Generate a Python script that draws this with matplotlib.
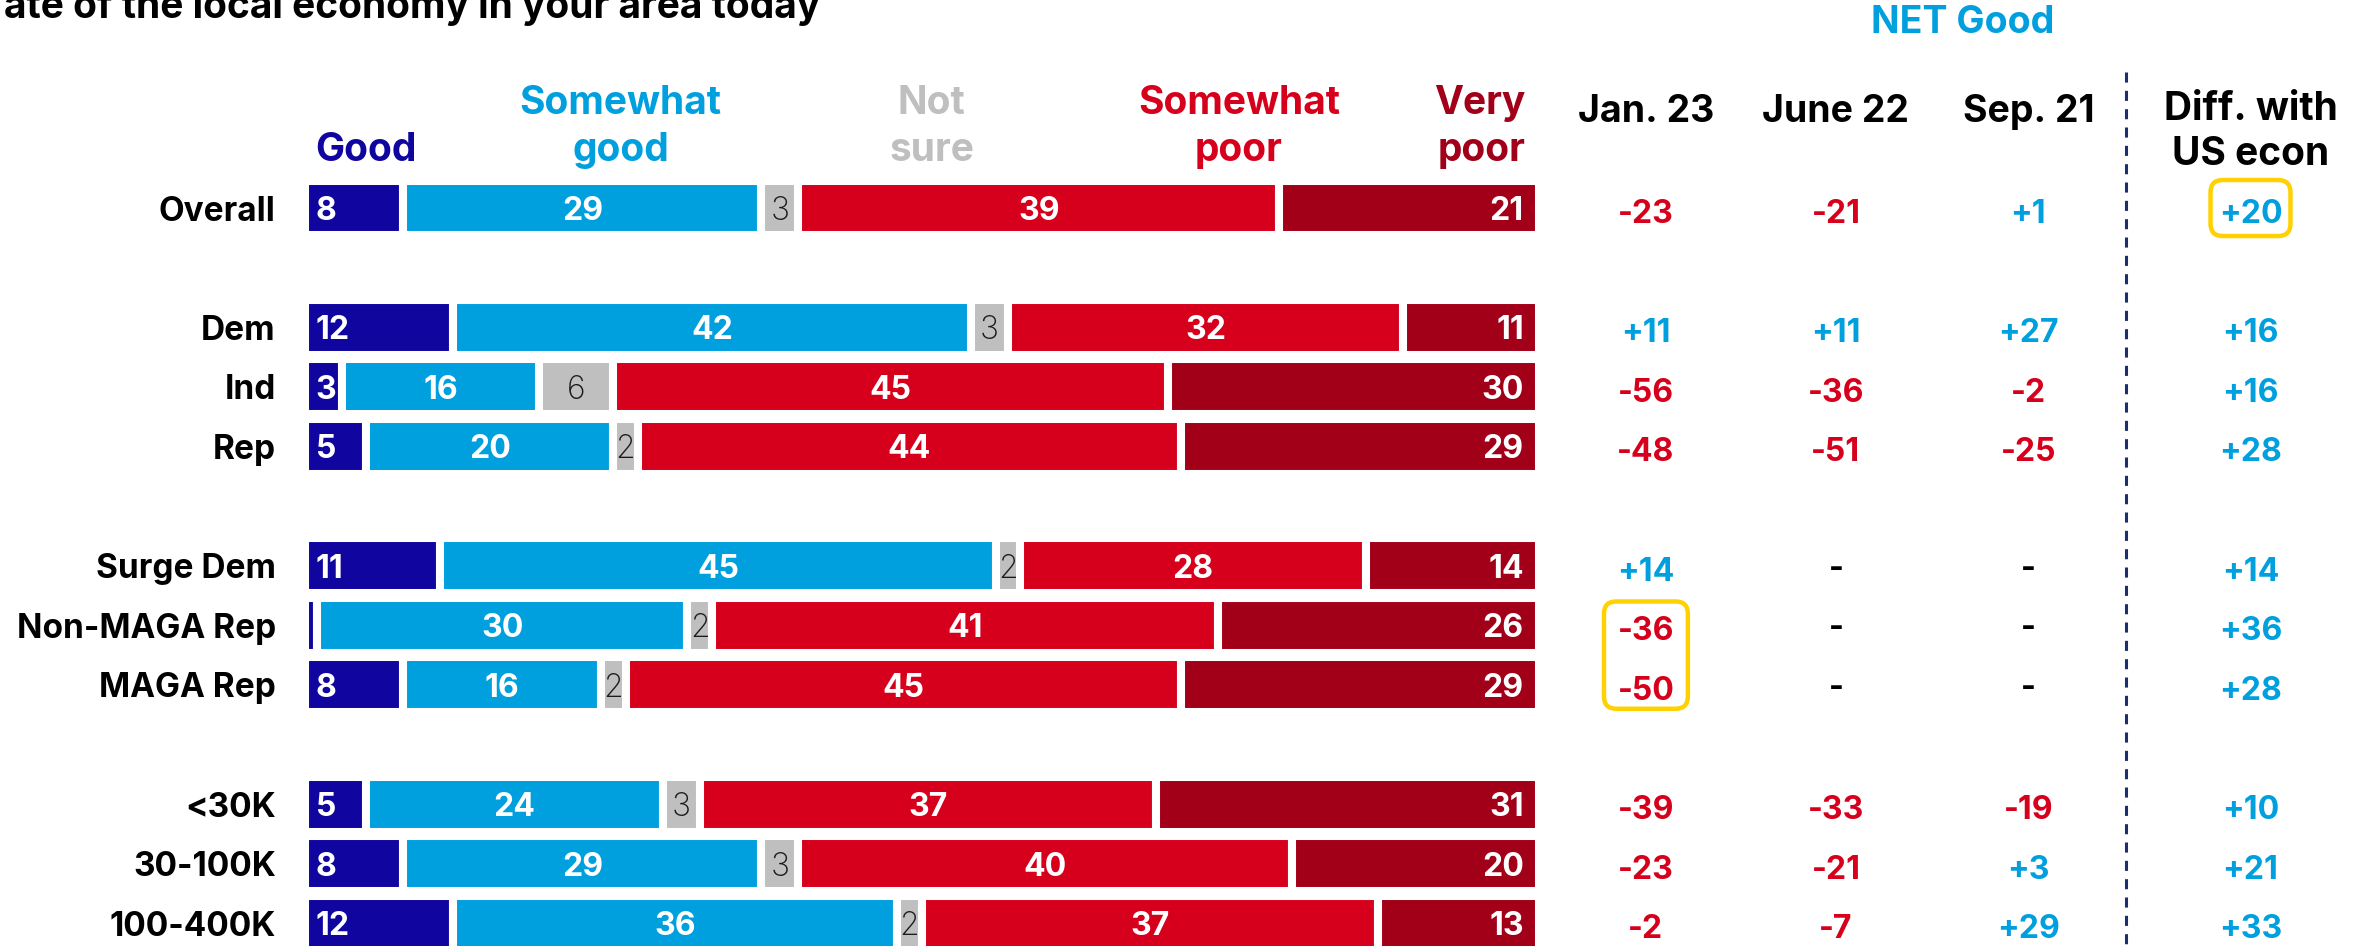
import matplotlib.pyplot as plt
from matplotlib.patches import FancyBboxPatch

plt.rcParams['font.family'] = ['Inter', 'DejaVu Sans']

# survey groups, split into blocks separated by a blank row
groups = ['Overall', 'Dem', 'Ind', 'Rep', 'Surge Dem', 'Non-MAGA Rep',
          'MAGA Rep', '<30K', '30-100K', '100-400K']
block_sizes = [1, 3, 3, 3]

answers = ['Good', 'Somewhat\ngood', 'Not\nsure', 'Somewhat\npoor', 'Very\npoor']
good = [8, 12, 3, 5, 11, 1, 8, 5, 8, 12]
somewhat_good = [29, 42, 16, 20, 45, 30, 16, 24, 29, 36]
not_sure = [3, 3, 6, 2, 2, 2, 2, 3, 3, 2]
somewhat_poor = [39, 32, 45, 44, 28, 41, 45, 37, 40, 37]
very_poor = [21, 11, 30, 29, 14, 26, 29, 31, 20, 13]

net_headers = ['Jan. 23', 'June 22', 'Sep. 21']
net_jan23 = [-23, 11, -56, -48, 14, -36, -50, -39, -23, -2]
net_jun22 = [-21, 11, -36, -51, None, None, None, -33, -21, -7]
net_sep21 = [1, 27, -2, -25, None, None, None, -19, 3, 29]
diff_us = [20, 16, 16, 28, 14, 36, 28, 10, 21, 33]

NAVY = '#10069F'
BLUE = '#009FDE'
GREY = '#BFBFBF'
RED = '#D6001C'
DARKRED = '#A10018'
GOLD = '#FFD100'
colors = [NAVY, BLUE, GREY, RED, DARKRED]

# row positions: one slot per group, one empty slot between blocks
ypos = []
slot = 0
for size in block_sizes:
    ypos.extend(range(slot, slot + size))
    slot += size + 1

fig = plt.figure(figsize=(23.64, 9.46), dpi=100)
ax = fig.add_axes([0, 0, 1, 1])
ax.set_xlim(-24.7, 166.9)
ax.set_ylim(12.38, -3.49)
ax.axis('off')

VAL_SIZE = 23

series = [good, somewhat_good, not_sure, somewhat_poor, very_poor]
lefts = [0] * len(groups)
for k, (vals, col) in enumerate(zip(series, colors)):
    ax.barh(ypos, vals, left=lefts, height=0.92, color=col,
            edgecolor='white', linewidth=5.8)
    for y, l, v in zip(ypos, lefts, vals):
        if v < 2:
            continue
        if k == 0:
            ax.text(l + 0.9, y, str(v), ha='left', va='center_baseline',
                    color='white', fontsize=VAL_SIZE, fontweight='bold')
        elif k == 4:
            ax.text(l + v - 1.2, y, str(v), ha='right', va='center_baseline',
                    color='white', fontsize=VAL_SIZE, fontweight='bold')
        elif k == 2:
            ax.text(l + v / 2, y, str(v), ha='center', va='center_baseline',
                    color='#1a1a1a', fontsize=VAL_SIZE, fontweight='light')
        else:
            ax.text(l + v / 2, y, str(v), ha='center', va='center_baseline',
                    color='white', fontsize=VAL_SIZE, fontweight='bold')
    lefts = [l + v for l, v in zip(lefts, vals)]

# group labels
for y, g in zip(ypos, groups):
    ax.text(-2.35, y, g, ha='right', va='center_baseline',
            fontsize=24, fontweight='bold', color='black')

# answer headers
head_x = [4.95, 25.6, 50.8, 75.7, 98.9]
for hx, txt, col in zip(head_x, answers, colors):
    ha = 'right' if txt.startswith('Very') else 'center'
    ax.text(hx, -0.66, txt, ha=ha, va='bottom', multialignment=ha,
            color=col, fontsize=28, fontweight='bold', linespacing=1.32)

# NET Good columns
col_x = [108.7, 124.1, 139.7]
for cx, hdr, vals in zip(col_x, net_headers, [net_jan23, net_jun22, net_sep21]):
    ax.text(cx, -1.31, hdr, ha='center', va='bottom',
            fontsize=27, fontweight='bold', color='black')
    for y, v in zip(ypos, vals):
        if v is None:
            ax.text(cx, y, '-', ha='center', va='center_baseline',
                    fontsize=VAL_SIZE, fontweight='bold', color='black')
        else:
            ax.text(cx, y + 0.05, f'{v:+d}', ha='center', va='center_baseline',
                    fontsize=VAL_SIZE, fontweight='bold',
                    color=BLUE if v > 0 else RED)

diff_x = 157.7
ax.text(diff_x, -0.59, 'Diff. with\nUS econ', ha='center', va='bottom',
        fontsize=28, fontweight='bold', color='black', linespacing=1.28)
for y, v in zip(ypos, diff_us):
    ax.text(diff_x, y + 0.05, f'{v:+d}', ha='center', va='center_baseline',
            fontsize=VAL_SIZE, fontweight='bold', color=BLUE if v > 0 else RED)

ax.text(134.4, -3.11, 'NET Good', ha='center', va='center',
        fontsize=27, fontweight='bold', color=BLUE)

ax.plot([147.6, 147.6], [-2.28, 12.38], color='#1B2F6E', lw=2.2,
        dashes=(3.3, 2.7))

# highlight boxes
aspect = 12.34 / 59.6
def highlight(xc, y_top, y_bot, half_w=3.3, pad_y=0.45):
    box = FancyBboxPatch((xc - half_w, y_top - pad_y), 2 * half_w,
                         (y_bot - y_top) + 2 * pad_y,
                         boxstyle='round,pad=0,rounding_size=1.0',
                         mutation_aspect=aspect, fill=False,
                         edgecolor=GOLD, linewidth=3.2)
    ax.add_patch(box)

highlight(diff_x, ypos[0], ypos[0], half_w=3.24, pad_y=0.47)
highlight(col_x[0], ypos[5], ypos[6], half_w=3.4, pad_y=0.4)

ax.text(-24.4, -3.19, 'ate of the local economy in your area today',
        ha='left', va='baseline', fontsize=28, fontweight='bold',
        color='black')

fig.savefig('out.png', dpi=100)
